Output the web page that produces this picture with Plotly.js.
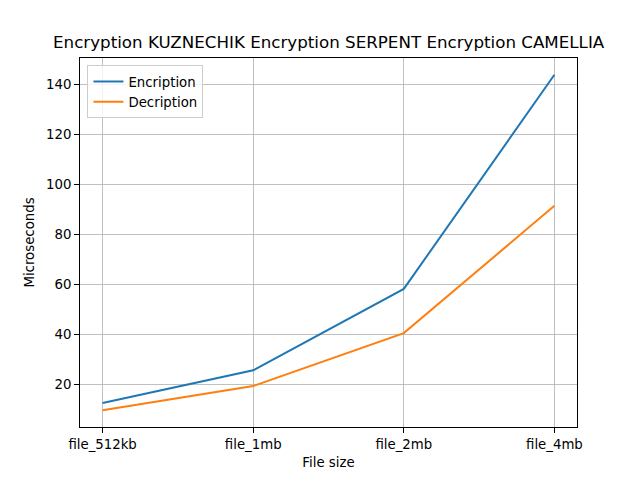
<!DOCTYPE html>
<html>
<head>
<meta charset="utf-8">
<script src="https://cdn.plot.ly/plotly-3.0.1.min.js"></script>
<style>html,body{margin:0;padding:0;background:#fff;}#chart{width:640px;height:480px;}</style>
</head>
<body>
<div id="chart"></div>
<script>
const categories = ["file_512kb", "file_1mb", "file_2mb", "file_4mb"];
const encryption = [12.5, 25.6, 58.2, 144.0];
const decryption = [9.6, 19.3, 40.5, 91.5];
const seriesNames = ["Encription", "Decription"];

const font = "DejaVu Sans, sans-serif";
const traces = [
  {x: categories, y: encryption, name: seriesNames[0], type: "scatter", mode: "lines",
   line: {color: "#1f77b4", width: 2}},
  {x: categories, y: decryption, name: seriesNames[1], type: "scatter", mode: "lines",
   line: {color: "#ff7f0e", width: 2}}
];
const axisCommon = {
  showline: true, linecolor: "#000", linewidth: 1, mirror: true,
  ticks: "outside", ticklen: 4.9, tickwidth: 1, tickcolor: "#000",
  showgrid: true, gridcolor: "#b0b0b0", gridwidth: 0.8, zeroline: false,
  tickfont: {family: font, size: 13.3, color: "#000"}
};
const layout = {
  width: 640, height: 480,
  margin: {l: 80, r: 63, t: 58, b: 53},
  paper_bgcolor: "#fff", plot_bgcolor: "#fff",
  font: {family: font, color: "#000"},
  title: {text: "Encryption KUZNECHIK Encryption SERPENT Encryption CAMELLIA",
    font: {family: font, size: 16.7, color: "#000"},
    x: 0.5135, xanchor: "center", y: 0.912, yanchor: "middle"},
  showlegend: true,
  legend: {x: 0.015, y: 0.98, xanchor: "left", yanchor: "top",
    bgcolor: "rgba(255,255,255,0.8)", bordercolor: "#cccccc", borderwidth: 1,
    tracegroupgap: 0,
    font: {family: font, size: 13.3, color: "#000"}},
  xaxis: Object.assign({}, axisCommon, {
    type: "category", range: [-0.15, 3.15],
    title: {text: "File size", font: {family: font, size: 13.3, color: "#000"}, standoff: 6}
  }),
  yaxis: Object.assign({}, axisCommon, {
    range: [2.88, 150.72], tickvals: [20, 40, 60, 80, 100, 120, 140],
    title: {text: "Microseconds", font: {family: font, size: 13.3, color: "#000"}, standoff: 8}
  })
};
Plotly.newPlot("chart", traces, layout, {displayModeBar: false, staticPlot: true});
</script>
</body>
</html>
